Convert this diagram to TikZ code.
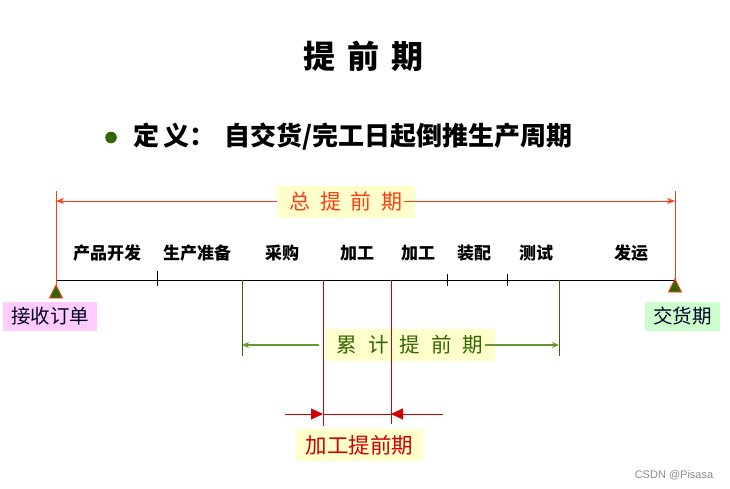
\documentclass[tikz,border=0pt]{standalone}
\usepackage{fontspec}
\newfontfamily\cjk{Noto Sans CJK SC}
\newfontfamily\wm{Liberation Sans}
\usetikzlibrary{arrows.meta}
\definecolor{totred}{RGB}{255,60,20}
\definecolor{procred}{RGB}{210,0,0}
\definecolor{ybox}{RGB}{255,255,204}
\definecolor{dgreen}{RGB}{51,102,0}
\definecolor{lgreen}{RGB}{102,153,51}
\definecolor{pinkbox}{RGB}{255,204,255}
\definecolor{greenbox}{RGB}{204,255,204}
\definecolor{navy}{RGB}{0,0,40}
\begin{document}
\begin{tikzpicture}[x=1pt,y=-1pt,
  every node/.style={inner sep=0pt, outer sep=0pt},
  stagelbl/.style={font=\cjk\bfseries\fontsize{17}{17}\selectfont},
  labelbox/.style={fill=ybox, minimum height=32pt, anchor=center},
  tick/.style={line width=1pt, draw=black},
  totline/.style={line width=1pt, draw=totred},
  totarrow/.style={line width=1pt, draw=totred, -{Stealth[length=8pt,width=6pt]}},
  cumline/.style={line width=1pt, draw=dgreen},
  cumarrow/.style={line width=1.2pt, draw=lgreen, -{Stealth[length=7pt,width=6pt]}},
  procline/.style={line width=1pt, draw=procred},
  procarrow/.style={line width=1pt, draw=procred, -{Triangle[length=12pt,width=11pt]}},
  marker/.style={fill=dgreen, draw=totred, line width=0.8pt}
]
\useasboundingbox (0,0) rectangle (730,488);
\fill[white] (0,0) rectangle (730,488);

% title
\node[font=\cjk\bfseries\fontsize{32}{32}\selectfont] (title) at (363,56) {提\hspace{12pt}前\hspace{12pt}期};

% bullet
\fill[dgreen] (111,137.5) circle (5.8);
\node[anchor=west, font=\cjk\bfseries\fontsize{26}{26}\selectfont] (defn) at (133,137) {定\hspace{5pt}义：\hspace{8pt}自交货/完工日起倒推生产周期};

% timeline coordinates
\coordinate (t0) at (56,280);
\coordinate (t1) at (157,280);
\coordinate (t2) at (242,280);
\coordinate (t3) at (323,280);
\coordinate (t4) at (391,280);
\coordinate (t5) at (447,280);
\coordinate (t6) at (507,280);
\coordinate (t7) at (559,280);
\coordinate (t8) at (675,280);

% boxes (drawn first)
\node[labelbox, minimum width=138pt, text=totred, font=\cjk\fontsize{21}{21}\selectfont] (tot) at (346,201.5) {总\hspace{10pt}提\hspace{10pt}前\hspace{10pt}期};
\node[labelbox, minimum width=170pt, text=dgreen, font=\cjk\fontsize{20.5}{21}\selectfont] (cum) at (410,345) {累\hspace{11pt}计\hspace{11pt}提\hspace{11pt}前\hspace{11pt}期};
\node[labelbox, minimum width=127pt, text=procred, font=\cjk\fontsize{21.5}{22}\selectfont] (proc) at (359.5,445) {加工提前期};
\node[fill=pinkbox, minimum width=94pt, minimum height=29pt, text=navy, font=\cjk\fontsize{19.5}{20}\selectfont] (recv) at (50,316.5) {接收订单};
\node[fill=greenbox, minimum width=75pt, minimum height=29pt, text=navy, font=\cjk\fontsize{19.5}{20}\selectfont] (deliv) at (682.5,316.5) {交货期};

% timeline
\draw[tick] (t0) -- (t8);
\draw[tick] ([yshift=-15pt]t0) -- (t0);
\draw[tick] ([yshift=-6pt]t1) -- ([yshift=9pt]t1);
\draw[tick] ([yshift=-5pt]t2) -- (t2);
\draw[tick] ([yshift=-7pt]t3) -- (t3);
\draw[tick] ([yshift=-5pt]t4) -- (t4);
\draw[tick] ([yshift=-6pt]t5) -- ([yshift=6pt]t5);
\draw[tick] ([yshift=-6pt]t6) -- ([yshift=6pt]t6);
\draw[tick] ([yshift=-7pt]t7) -- (t7);
\draw[tick] ([yshift=-10pt]t8) -- (t8);

% stage labels
\node[stagelbl] (s1) at (107,253) {产品开发};
\node[stagelbl] (s2) at (197,253) {生产准备};
\node[stagelbl] (s3) at (282,253) {采购};
\node[stagelbl] (s4) at (357,253) {加工};
\node[stagelbl] (s5) at (418,253) {加工};
\node[stagelbl] (s6) at (474,253) {装配};
\node[stagelbl] (s7) at (536,253) {测试};
\node[stagelbl] (s8) at (631,253) {发运};

% total lead time
\coordinate (tl) at (56,201);
\coordinate (tr) at (675,201);
\coordinate (tstart) at (404,201);
\draw[totline] (56,191) -- ([yshift=-15pt]t0);
\draw[totline] (675,191) -- ([yshift=-10pt]t8);
\draw[totarrow] (tot.west |- tl) -- (tl);
\draw[totarrow] (tstart) -- (tr);

% cumulative lead time
\coordinate (cl) at (242,345);
\coordinate (cr) at (559,345);
\draw[cumline] (t2) -- (242,356);
\draw[cumline] (t7) -- (559,356);
\draw[cumarrow] (319,345) -- (cl);
\draw[cumarrow] (485,345) -- (cr);

% processing lead time
\coordinate (pl) at (323,414);
\coordinate (pr) at (391,414);
\draw[procline] (t3) -- (323,426);
\draw[procline] (t4) -- (391,424);
\draw[procline] (pl) -- (pr);
\draw[procarrow] (285,414) -- (pl);
\draw[procarrow] (443,414) -- (pr);

% markers
\filldraw[marker] (56,285) -- (62.5,298) -- (49.5,298) -- cycle;
\filldraw[marker] (675,279) -- (681.5,292) -- (668.5,292) -- cycle;

% watermark
\node[font=\wm\fontsize{11}{11}\selectfont, text=black!45] (wmark) at (674,475) {CSDN @Pisasa};
\end{tikzpicture}
\end{document}
